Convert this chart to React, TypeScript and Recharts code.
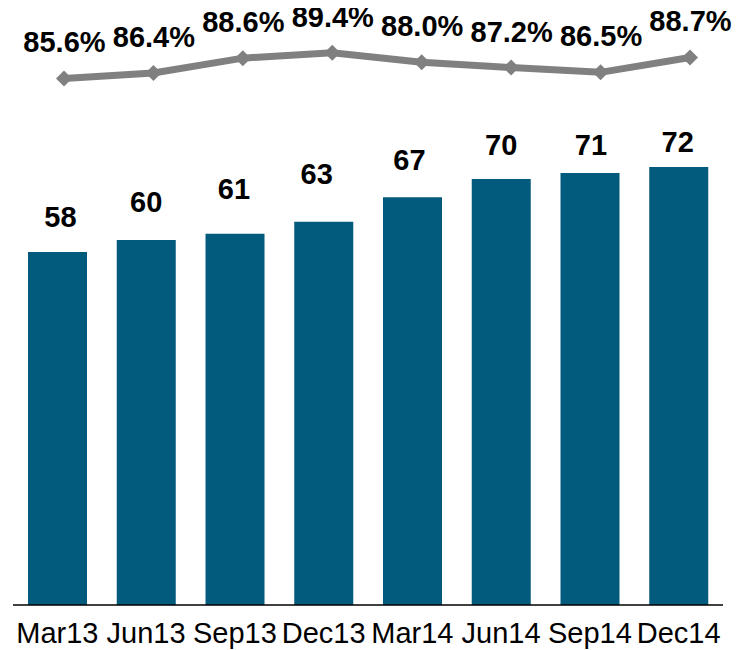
import React from "react";
import { ComposedChart, Bar, Line, XAxis, YAxis, LabelList } from "recharts";

const categories = ["Mar13", "Jun13", "Sep13", "Dec13", "Mar14", "Jun14", "Sep14", "Dec14"];
const barValues = [58, 60, 61, 63, 67, 70, 71, 72];
const ratioValues = [85.6, 86.4, 88.6, 89.4, 88.0, 87.2, 86.5, 88.7];

const data = categories.map((c, i) => ({ name: c, idx: i, count: barValues[i], ratio: ratioValues[i] }));

// layout tweaks for bar value labels (distance of baseline above bar top, horizontal nudge)
const barLabelGap = [25, 28, 35, 38, 27, 24, 18, 15];
const barLabelNudge = [3, 0, -1, -7, -3, 0, 1, -1];

const FONT = "'Liberation Sans', Arial, Helvetica, sans-serif";

const Diamond = (props: any) => {
  const { cx, cy } = props;
  if (cx == null || cy == null) return null;
  const r = 8;
  return (
    <polygon
      points={`${cx},${cy - r} ${cx + r},${cy} ${cx},${cy + r} ${cx - r},${cy}`}
      fill="#808080"
    />
  );
};

const BarLabel = (props: any) => {
  const { x, y, width, value } = props;
  let i = typeof props.index === "number" ? props.index : barValues.indexOf(Number(value));
  if (i < 0) i = 0;
  return (
    <text
      x={x + width / 2 + barLabelNudge[i]}
      y={y - barLabelGap[i]}
      textAnchor="middle"
      fontFamily={FONT}
      fontWeight="bold"
      fontSize={29}
      fill="#000"
    >
      {value}
    </text>
  );
};

const LineLabel = (props: any) => {
  const { x, y, value } = props;
  return (
    <text x={x + 0.5} y={y - 26} textAnchor="middle" fontFamily={FONT} fontWeight="bold" fontSize={29} fill="#000">
      {Number(value).toFixed(1)}%
    </text>
  );
};

const Tick = (props: any) => {
  const { x, y, payload } = props;
  return (
    <text x={x} y={y} dy={30} textAnchor="middle" fontFamily={FONT} fontSize={29} fill="#000">
      {payload.value}
    </text>
  );
};

export default function App() {
  return (
    <div style={{ marginTop: -8, marginLeft: -8 }}>
      <ComposedChart
        width={742}
        height={650}
        data={data}
        margin={{ top: 27, right: 19, bottom: 0, left: 13 }}
      >
        <XAxis
          xAxisId="cat"
          dataKey="name"
          tickLine={false}
          axisLine={{ stroke: "#000", strokeWidth: 1.5 }}
          height={45}
          tick={<Tick />}
          interval={0}
        />
        <XAxis xAxisId="pt" dataKey="idx" type="number" domain={[-0.57, 7.369]} hide />
        <YAxis yAxisId="left" hide domain={[0, 95]} />
        <YAxis yAxisId="right" hide orientation="right" domain={[7.8, 93.2]} />
        <Bar xAxisId="cat" yAxisId="left" dataKey="count" fill="#025a7c" barSize={59} isAnimationActive={false}>
          <LabelList dataKey="count" content={<BarLabel />} />
        </Bar>
        <Line
          xAxisId="pt"
          yAxisId="right"
          dataKey="ratio"
          stroke="#808080"
          strokeWidth={7}
          dot={<Diamond />}
          activeDot={false}
          type="linear"
          isAnimationActive={false}
        >
          <LabelList dataKey="ratio" content={<LineLabel />} />
        </Line>
      </ComposedChart>
    </div>
  );
}
